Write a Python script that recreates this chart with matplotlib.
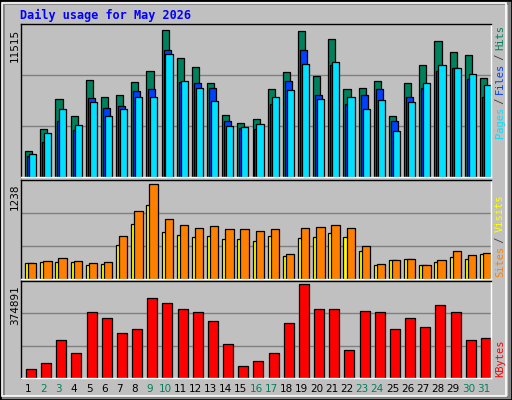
import matplotlib
matplotlib.use("Agg")
import matplotlib.pyplot as plt
from matplotlib.patches import Rectangle
import numpy as np

days = list(range(1, 32))
weekend = [2, 3, 9, 10, 16, 17, 23, 24, 30, 31]
hits = [2040, 3760, 6110, 4750, 7600, 6270, 6420, 7440, 8300, 11515, 9320, 8610, 7360, 4860, 4230, 4540, 6890, 8220, 11440, 7910, 10810, 6890, 6970, 7520, 4780, 7360, 8770, 10650, 9790, 9550, 7760]
files = [1650, 2740, 4390, 3680, 6190, 5400, 5560, 6740, 6890, 9950, 7440, 7360, 6970, 4390, 3840, 3760, 5710, 7520, 9950, 6420, 8770, 5710, 6420, 6890, 4390, 6270, 6970, 8300, 8530, 7670, 6270]
pages = [1800, 3440, 5320, 4070, 5870, 4780, 5320, 6260, 6260, 9630, 7520, 6970, 5950, 4000, 3920, 4150, 6260, 6810, 8850, 6110, 9000, 6260, 5320, 6030, 3600, 5870, 7360, 8770, 8530, 8060, 7200]
sites = [205, 219, 219, 219, 179, 192, 447, 715, 970, 608, 581, 554, 568, 528, 528, 501, 568, 300, 541, 554, 595, 554, 367, 179, 246, 259, 179, 219, 286, 259, 326]
visits = [205, 232, 273, 232, 205, 219, 568, 885, 1238, 782, 702, 662, 688, 648, 648, 621, 648, 326, 662, 675, 702, 662, 434, 192, 246, 259, 179, 246, 367, 313, 340]
kbytes = [34200, 58900, 153500, 100000, 264500, 239800, 178300, 194700, 322000, 301400, 276800, 264500, 227600, 137200, 46600, 67100, 100000, 219300, 374891, 276800, 276800, 112300, 268600, 264500, 194700, 239800, 202900, 293200, 264500, 153500, 161700]

W, H = 512, 400
fig = plt.figure(figsize=(5.12, 4.0), dpi=100, facecolor="#C0C0C0")
def fx(x): return x / W
def fy(y): return 1 - y / H

# bevel frame
fig.patches.append(Rectangle((0, 0), 1, 1, transform=fig.transFigure, fill=False, ec="black", lw=2))
fig.patches.append(Rectangle((fx(3), fy(397)), fx(506), 394/H, transform=fig.transFigure, fill=False, ec="#808080", lw=2))
fig.patches.append(Rectangle((fx(2), fy(396)), fx(504), 393/H, transform=fig.transFigure, fill=False, ec="white", lw=1.2))

def mkax(top, bot):
    ax = fig.add_axes([fx(21), fy(bot), fx(491 - 21), (bot - top) / H])
    ax.set_facecolor("#C0C0C0")
    ax.set_xlim(0, 31)
    ax.set_xticks([]); ax.set_yticks([])
    for s in ax.spines.values():
        s.set_color("black"); s.set_linewidth(1)
    ax.spines["right"].set_color("white"); ax.spines["bottom"].set_color("white")
    return ax

x = np.array(days) - 1.0
kw = dict(align="edge", edgecolor="black", linewidth=0.9)

ax1 = mkax(24, 177)
top1 = 11515 * 153 / 147
ax1.set_ylim(0, top1)
for g in (top1 / 3, 2 * top1 / 3):
    ax1.axhline(g, color="#808080", lw=1, zorder=0)
ax1.bar(x + 0.27, hits, width=0.47, color="#00805C", **kw)
ax1.bar(x + 0.40, files, width=0.47, color="#0040FF", **kw)
ax1.bar(x + 0.53, pages, width=0.47, color="#00E0FF", **kw)

ax2 = mkax(180, 279)
top2 = 1238 * 99 / 94.7
ax2.set_ylim(0, top2)
for g in (top2 / 3, 2 * top2 / 3):
    ax2.axhline(g, color="#808080", lw=1, zorder=0)
ax2.bar(x + 0.27, sites, width=0.5, color="#FFFF00", **kw)
ax2.bar(x + 0.47, visits, width=0.55, color="#FF8000", **kw)

ax3 = mkax(281, 378)
top3 = 374891 * 97 / 93.7
ax3.set_ylim(0, top3)
for g in (top3 / 3, 2 * top3 / 3):
    ax3.axhline(g, color="#808080", lw=1, zorder=0)
ax3.bar(x + 0.33, kbytes, width=0.66, color="#FF0000", **kw)

mono = "DejaVu Sans Mono"
fig.text(fx(20), fy(15), "Daily usage for May 2026", color="#0000FF", family=mono,
         fontsize=8.5, fontweight="bold", va="center", ha="left")

for d in days:
    c = "#00805C" if d in weekend else "black"
    fig.text(fx(21 + (d - 0.5) * 470 / 31), fy(389), str(d), color=c, fontsize=7.5,
             ha="center", va="center")

# left max labels
for y0, t in ((29, "11515"), (184, "1238"), (285, "374891")):
    fig.text(fx(15), fy(y0), t, rotation=90, fontsize=7.5, ha="center", va="top")

def right_label(parts, y_bottom, step=5.5):
    y = y_bottom
    for txt, col in parts:
        fig.text(fx(500), fy(y), txt, rotation=90, color=col, family=mono,
                 fontsize=7.5, ha="center", va="bottom")
        y -= len(txt) * step

right_label([("Pages", "#00E0FF"), (" / ", "#404040"), ("Files", "#0040FF"),
             (" / ", "#404040"), ("Hits", "#00805C")], 138)
right_label([("Sites", "#FF8000"), (" / ", "#404040"), ("Visits", "#FFFF00")], 277, 5.6)
right_label([("KBytes", "#FF0000")], 377, 5.8)

fig.savefig("out.png", dpi=100, facecolor=fig.get_facecolor())
